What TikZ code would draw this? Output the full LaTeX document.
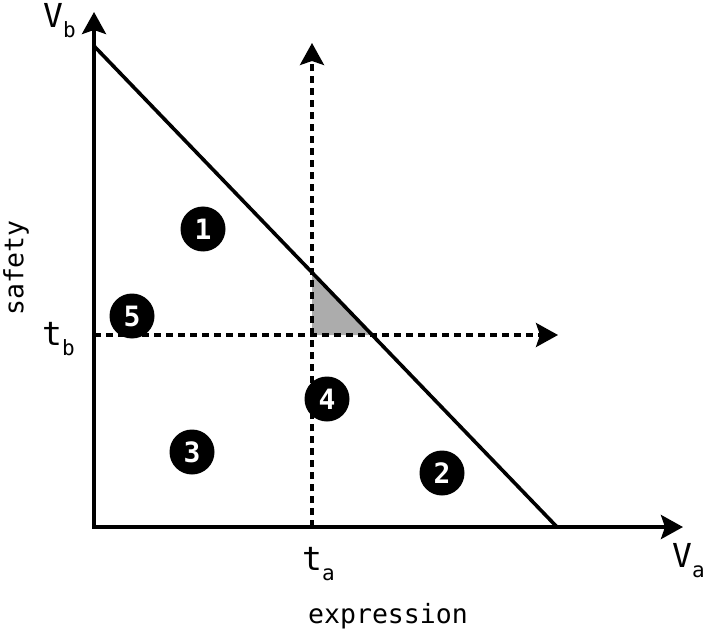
\documentclass[tikz,border=0pt]{standalone}
\usepackage{fontspec}
\setmainfont{DejaVu Sans Mono}
\usetikzlibrary{arrows.meta,intersections}

\newcommand{\axlabel}[2]{#1\raisebox{-10pt}{\fontsize{21}{21}\selectfont #2}}

\begin{document}
\begin{tikzpicture}[x=1pt,y=1pt,
    axis/.style={line width=3.8pt,line join=miter,{Stealth[length=22pt,width=24pt,inset=4pt]}-{Stealth[length=22pt,width=24pt,inset=4pt]}},
    threshold/.style={line width=3.4pt,dash pattern=on 7pt off 5pt,-{Stealth[length=22pt,width=24pt,inset=4pt]}},
    region/.style={circle,fill=black,text=white,minimum size=45pt,inner sep=0pt,font=\fontsize{28}{28}\selectfont\bfseries},
    axlbl/.style={inner sep=0pt,font=\fontsize{33}{33}\selectfont},
    title/.style={inner sep=0pt,font=\fontsize{26.5}{26.5}\selectfont}]
  \useasboundingbox (-94,-108) rectangle (614,527);
  % Akser og budgetlinje
  \coordinate (O) at (0,0);
  \coordinate (Ytip) at (0,515);
  \coordinate (Xtip) at (589,0);
  \coordinate (Vb) at (0,481);
  \coordinate (Va) at (463,0);
  % Taerskler
  \coordinate (ta) at (218,0);
  \coordinate (tb) at (0,192);
  \coordinate (taTip) at (218,484);
  \coordinate (tbTip) at (464,192);
  \coordinate (C) at (ta |- tb);
  % Skaeringer med budgetlinjen
  \path[name path=budget] (Vb) -- (Va);
  \path[name path=vert] (ta) -- (taTip);
  \path[name path=horz] (tb) -- (tbTip);
  \path[name intersections={of=budget and vert,by=P}];
  \path[name intersections={of=budget and horz,by=Q}];
  % Skraveret hjoerne
  \fill[gray!65] (C) -- (P) -- (Q) -- cycle;
  \draw[threshold] (ta) -- (taTip);
  \draw[threshold] (tb) -- (tbTip);
  \draw[line width=3.6pt] (Vb) -- (Va);
  \draw[axis] (Ytip) -- (O) -- (Xtip);
  % Omraader
  \foreach \n/\x/\y in {1/109/298, 2/348/54, 3/98/75, 4/233/128, 5/38/211}
    \node[region] (r\n) at (\x,\y) {\n};
  % Etiketter
  \node[axlbl,anchor=base west] (lVb) at (-51,499) {\axlabel{V}{b}};
  \node[axlbl,anchor=base west] (ltb) at (-52,182) {\axlabel{t}{b}};
  \node[axlbl,anchor=base west] (lta) at (208,-43) {\axlabel{t}{a}};
  \node[axlbl,anchor=base west] (lVa) at (578,-40) {\axlabel{V}{a}};
  \node[title,anchor=base] (xtitle) at (294,-96) {expression};
  \node[title,rotate=90] (ytitle) at (-78,259) {safety};
\end{tikzpicture}
\end{document}
